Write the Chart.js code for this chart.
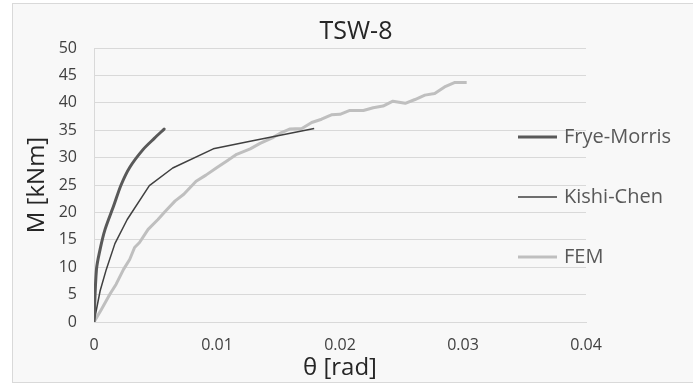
<!DOCTYPE html>
<html>
<head>
<meta charset="utf-8">
<script src="https://cdn.jsdelivr.net/npm/chart.js@4/dist/chart.umd.min.js"></script>
<style>
  html, body { margin: 0; padding: 0; background: #ffffff; }
  #wrap { position: relative; width: 693px; height: 385px; }
</style>
</head>
<body>
<div id="wrap"><canvas id="c" width="693" height="385"></canvas></div>
<script>
const chartTitle = "TSW-8";
const xTitle = "θ [rad]";
const yTitle = "M [kNm]";
const seriesNames = ["Frye-Morris", "Kishi-Chen", "FEM"];

const fryeTheta = [0, 0.0002, 0.0005, 0.0009, 0.0016, 0.0022, 0.0029, 0.0040, 0.0049, 0.0057];
const fryeM     = [0, 9.6, 13.3, 16.9, 21.2, 25.0, 28.2, 31.5, 33.5, 35.2];

const kishiTheta = [0, 0.0005, 0.0010, 0.0017, 0.0027, 0.0045, 0.0064, 0.0097, 0.0127, 0.0179];
const kishiM     = [0, 5.7, 9.6, 14.3, 18.7, 24.9, 28.1, 31.6, 33.0, 35.3];

const femTheta = [0, 0.0006, 0.0013, 0.0018, 0.0024, 0.0029, 0.0033, 0.0037, 0.0044, 0.0052,
                  0.0058, 0.0066, 0.0073, 0.0083, 0.0091, 0.0100, 0.0108, 0.0116, 0.0127, 0.0135,
                  0.0145, 0.0151, 0.0159, 0.0169, 0.0177, 0.0185, 0.0193, 0.0200, 0.0208, 0.0219,
                  0.0227, 0.0235, 0.0243, 0.0253, 0.0261, 0.0269, 0.0277, 0.0285, 0.0293, 0.0303];
const femM     = [0, 2.3, 5.1, 6.9, 9.6, 11.4, 13.6, 14.5, 16.9, 18.7,
                  20.2, 22.1, 23.3, 25.7, 26.8, 28.2, 29.4, 30.6, 31.6, 32.6,
                  33.6, 34.4, 35.2, 35.3, 36.4, 37.0, 37.8, 37.9, 38.6, 38.6,
                  39.1, 39.4, 40.3, 39.9, 40.6, 41.4, 41.7, 42.9, 43.7, 43.7];

const xTicks = [0, 0.01, 0.02, 0.03, 0.04];
const yTicks = [0, 5, 10, 15, 20, 25, 30, 35, 40, 45, 50];

function pts(xs, ys) { return xs.map((x, i) => ({ x: x, y: ys[i] })); }

const FONT = "'Open Sans', 'Noto Sans', sans-serif";

const bgPlugin = {
  id: 'bg',
  beforeDraw(chart) {
    const ctx = chart.ctx;
    ctx.save();
    ctx.fillStyle = '#f8f8f8';
    ctx.fillRect(12, 3, 700, 380);
    ctx.strokeStyle = '#d9d9d9';
    ctx.lineWidth = 1;
    ctx.strokeRect(12.5, 3.5, 700, 379);
    ctx.restore();
  }
};

// Reserve room on the right for the legend column (not full size, so the title stays centred on the panel)
const legendSpacePlugin = {
  id: 'legendSpace',
  beforeInit(chart) {
    const box = {
      position: 'right', weight: 0, fullSize: false, options: {},
      left: 0, top: 0, right: 0, bottom: 0, width: 0, height: 0,
      isHorizontal() { return false; },
      update(maxWidth, maxHeight) { this.width = 107; this.height = maxHeight; },
      draw() {},
      _layers() { return [{ z: 0, draw() {} }]; }
    };
    Chart.layouts.addBox(chart, box);
  }
};

const legendPlugin = {
  id: 'customLegend',
  afterDraw(chart) {
    const ctx = chart.ctx;
    const ys = [137, 197, 257];
    ctx.save();
    chart.data.datasets.forEach((ds, i) => {
      const y = ys[i];
      ctx.strokeStyle = ds.borderColor;
      ctx.lineWidth = ds.borderWidth;
      ctx.beginPath();
      ctx.moveTo(518, y);
      ctx.lineTo(557, y);
      ctx.stroke();
      ctx.fillStyle = '#595959';
      ctx.font = "20px " + FONT;
      ctx.textBaseline = 'middle';
      ctx.textAlign = 'left';
      ctx.fillText(ds.label, 564, y);
    });
    ctx.restore();
  }
};

new Chart(document.getElementById('c'), {
  type: 'scatter',
  data: {
    datasets: [
      { label: seriesNames[0], data: pts(fryeTheta, fryeM), showLine: true, borderColor: '#595959', borderWidth: 3, pointRadius: 0, tension: 0.3, borderCapStyle: 'round', borderJoinStyle: 'round' },
      { label: seriesNames[1], data: pts(kishiTheta, kishiM), showLine: true, borderColor: '#404040', borderWidth: 1.5, pointRadius: 0, tension: 0, borderJoinStyle: 'round' },
      { label: seriesNames[2], data: pts(femTheta, femM), showLine: true, borderColor: '#bfbfbf', borderWidth: 3, pointRadius: 0, tension: 0, borderJoinStyle: 'round' }
    ]
  },
  options: {
    responsive: false,
    animation: false,
    events: [],
    layout: { padding: { left: 19, right: 0, top: 0, bottom: 2 } },
    plugins: {
      legend: { display: false },
      tooltip: { enabled: false },
      title: {
        display: true, text: chartTitle, color: '#262626',
        font: { family: FONT, size: 25, weight: 'normal' },
        padding: { top: 17, bottom: 1 }
      }
    },
    scales: {
      x: {
        type: 'linear', min: 0, max: 0.04,
        afterBuildTicks: s => { s.ticks = xTicks.map(v => ({ value: v })); },
        afterFit: s => { s.height = 61; },
        ticks: { color: '#404040', font: { family: FONT, size: 16 }, padding: 14, maxRotation: 0,
                 callback: v => String(v) },
        grid: { display: false, drawTicks: false },
        border: { display: true, color: '#d9d9d9', width: 1 },
        title: { display: true, text: xTitle, color: '#262626', font: { family: FONT, size: 24 }, padding: { top: 0, bottom: 0 } }
      },
      y: {
        type: 'linear', min: 0, max: 50,
        afterBuildTicks: s => { s.ticks = yTicks.map(v => ({ value: v })); },
        afterFit: s => { s.width = 75; },
        ticks: { color: '#404040', font: { family: FONT, size: 16 }, padding: 17 },
        grid: { color: '#d9d9d9', lineWidth: 1, drawTicks: false },
        border: { display: true, color: '#d9d9d9', width: 1 },
        title: { display: true, text: yTitle, color: '#262626', font: { family: FONT, size: 24 }, padding: { top: 4, bottom: 0 } }
      }
    }
  },
  plugins: [bgPlugin, legendSpacePlugin, legendPlugin]
});
</script>
</body>
</html>
